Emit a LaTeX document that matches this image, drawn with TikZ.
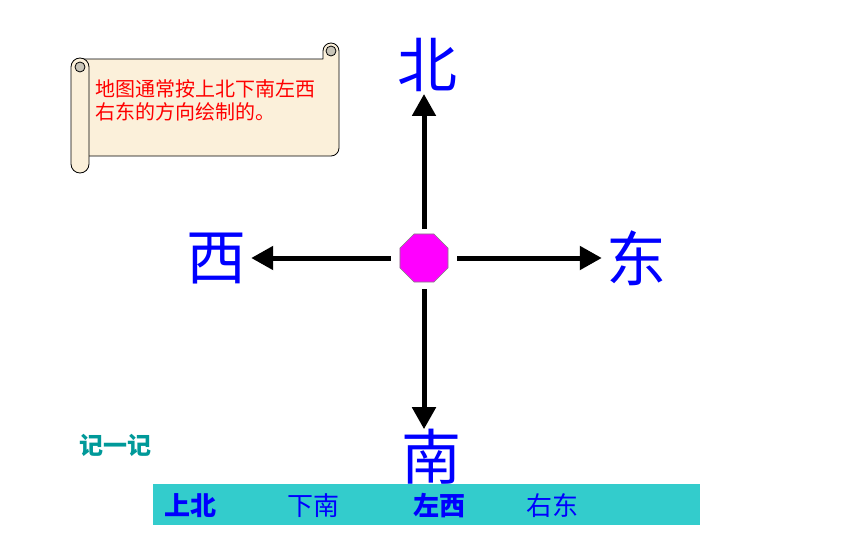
\documentclass[tikz,border=0pt]{standalone}
\usepackage{fontspec}
\newfontfamily\cjk{Noto Sans CJK SC}
\usetikzlibrary{shapes.geometric,arrows.meta}
\definecolor{paper}{HTML}{FBF0DA}
\definecolor{curl}{HTML}{C9C5B9}
\definecolor{bandcol}{HTML}{33CCCC}
\definecolor{jicol}{HTML}{009999}
\definecolor{octcol}{HTML}{FF00FF}
\begin{document}
\begin{tikzpicture}[x=1pt, y=-1pt, line join=round, line cap=round,
  >={Triangle[length=22pt,width=23pt]},
  dir/.style={font=\cjk\fontsize{60}{60}\selectfont, text=blue, inner sep=0pt},
  bar/.style={font=\cjk\fontsize{26}{26}\selectfont, text=blue, inner sep=0pt},
  memo/.style={font=\cjk\fontsize{20}{20}\selectfont, text=red, inner sep=0pt, anchor=base west},
  arr/.style={->, line width=5pt, line cap=butt}]
\useasboundingbox (0,0) rectangle (860,538);
% scroll
\draw[fill=paper, line width=0.8pt] (80,59) -- (323,59) -- (323,51) arc (180:360:8)
  -- (339,148) arc (0:90:8) -- (80,156) -- cycle;
\filldraw[fill=curl, line width=0.8pt] (331,51) circle (5pt);
\draw[fill=paper, line width=0.8pt, rounded corners=9pt] (71,58) rectangle (89,173);
\filldraw[fill=curl, line width=0.8pt] (80,67) circle (5pt);
\node (note1) [memo] at (95,96) {地图通常按上北下南左西};
\node (note2) [memo] at (95,119) {右东的方向绘制的。};
% centre and directions
\node (c) [regular polygon, regular polygon sides=8, minimum size=52pt, inner sep=0pt,
  fill=octcol, draw=gray, line width=0.6pt] at (424,258) {};
\node (bei) [dir] at (427,65) {北};
\node (xi) [dir] at (216,259) {西};
\node (dong) [dir] at (636,258) {东};
\draw[arr, shorten <=5pt, shorten >=2pt] (c.north) -- (c.north |- bei.south);
\draw[arr, shorten <=9pt, shorten >=5pt] (c.west) -- (c.west -| xi.east);
\draw[arr, shorten <=9pt, shorten >=4pt] (c.east) -- (c.east -| dong.west);
% bottom band
\node (band) [fill=bandcol, minimum width=547pt, minimum height=41pt, inner sep=0pt,
  anchor=north west] at (153,484) {};
\node (nan) [dir] at (431,457) {南};
\draw[arr, shorten <=7pt] (c.south) -- (c.south |- nan.north);
\node (ji) [text=jicol, inner sep=0pt, font=\cjk\bfseries\fontsize{24}{24}\selectfont] at (115,445) {记一记};
\node (sb) [bar] at (190,506) {\bfseries 上北};
\node (xn) [bar] at (313,506) {下南};
\node (zx) [bar] at (439,506) {\bfseries 左西};
\node (yd) [bar] at (552,506) {右东};
\end{tikzpicture}
\end{document}
